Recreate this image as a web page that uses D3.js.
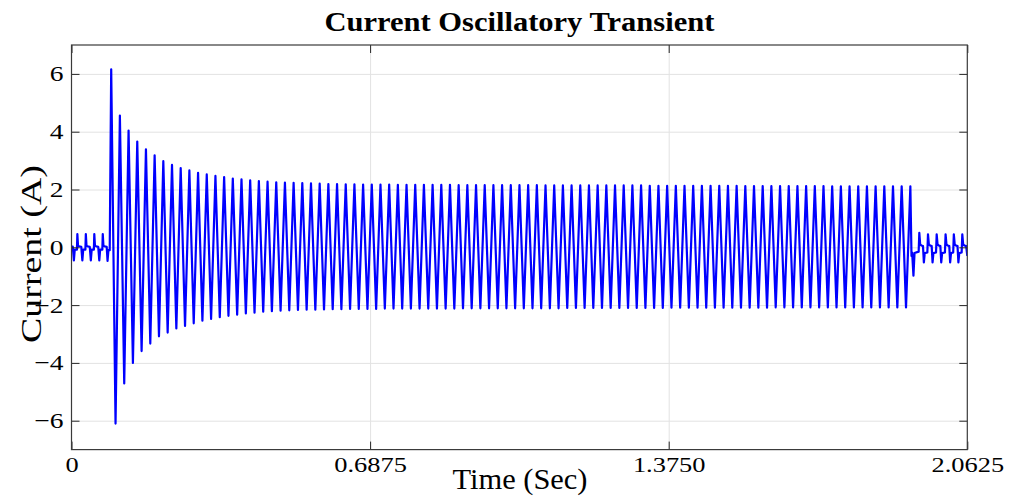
<!DOCTYPE html>
<html>
<head>
<meta charset="utf-8">
<title>Current Oscillatory Transient</title>
<script src="https://cdn.jsdelivr.net/npm/d3@7"></script>
<style>
  body { margin: 0; padding: 0; background: white; }
  svg { display: block; font-family: "Liberation Serif", "Times New Roman", serif; }
  .grid line { stroke: #e2e2e2; stroke-width: 1; }
  .grid path { display: none; }
  .axis path { display: none; }
  .axis line { stroke: #262626; stroke-width: 1; }
  .axis text { fill: #000; font-size: 22px; font-family: "Liberation Serif", serif; }
  .frame { fill: none; stroke: #3a3a3a; stroke-width: 1.2; }
  .trace { fill: none; stroke: #0000ff; stroke-width: 2.2; stroke-linejoin: round; }
  .title { font-weight: bold; font-size: 27px; }
  .label { font-size: 29px; }
</style>
</head>
<body>
<svg id="chart" width="1017" height="497"></svg>
<script>

//--- Axis ticks
const xTicks = [0, 0.6875, 1.375, 2.0625];
const xTickLabels = ["0", "0.6875", "1.3750", "2.0625"];
const yTicks = [-6, -4, -2, 0, 2, 4, 6];

//--- Oscillation: one positive and one negative peak per 50 Hz cycle
const period = 0.02;
const firstPeakTime = 0.0914;

const posPeaks = [
  6.16, 4.56, 4.04, 3.66, 3.39, 3.18, 2.98, 2.85, 2.74, 2.66,
  2.58, 2.52, 2.47, 2.43, 2.38, 2.35, 2.32, 2.29, 2.27, 2.25,
  2.24, 2.23, 2.22, 2.21, 2.20, 2.19, 2.19, 2.18, 2.18, 2.17,
  2.17, 2.17, 2.17, 2.16, 2.16, 2.16, 2.16, 2.16, 2.16, 2.16,
  2.15, 2.15, 2.15, 2.15, 2.15, 2.15, 2.15, 2.15, 2.15, 2.15,
  2.14, 2.14, 2.14, 2.14, 2.14, 2.14, 2.14, 2.14, 2.14, 2.14,
  2.14, 2.14, 2.13, 2.13, 2.13, 2.13, 2.13, 2.13, 2.13, 2.13,
  2.13, 2.13, 2.13, 2.12, 2.12, 2.12, 2.12, 2.12, 2.12, 2.12,
  2.12, 2.12, 2.12, 2.11, 2.11, 2.11, 2.11, 2.11, 2.11, 2.11,
  2.11, 2.11, 2.11
];

const negPeaks = [
  -6.10, -4.71, -4.00, -3.59, -3.33, -3.08, -2.95, -2.81, -2.72, -2.63,
  -2.54, -2.48, -2.42, -2.37, -2.33, -2.29, -2.26, -2.23, -2.21, -2.19,
  -2.18, -2.17, -2.16, -2.16, -2.15, -2.14, -2.14, -2.13, -2.13, -2.13,
  -2.13, -2.12, -2.12, -2.12, -2.12, -2.12, -2.12, -2.12, -2.12, -2.12,
  -2.11, -2.11, -2.11, -2.11, -2.11, -2.11, -2.11, -2.11, -2.11, -2.11,
  -2.11, -2.11, -2.10, -2.10, -2.10, -2.10, -2.10, -2.10, -2.10, -2.10,
  -2.10, -2.10, -2.10, -2.10, -2.09, -2.09, -2.09, -2.09, -2.09, -2.09,
  -2.09, -2.09, -2.09, -2.09, -2.09, -2.09, -2.08, -2.08, -2.08, -2.08,
  -2.08, -2.08, -2.08, -2.08, -2.08, -2.08, -2.08, -2.08, -2.08, -2.08,
  -2.08, -2.08
];

//--- Small ripple before the transient
const preTime = [
  0.000, 0.003, 0.0055, 0.0075, 0.0125, 0.0135, 0.015, 0.018, 0.0225,
  0.025, 0.027, 0.032, 0.033, 0.0345, 0.0375, 0.042,
  0.0445, 0.0465, 0.0515, 0.0525, 0.054, 0.057, 0.0615,
  0.064, 0.066, 0.071, 0.072, 0.0735, 0.0765, 0.081,
  0.083, 0.085, 0.088
];
const preCurrent = [
  0.02, 0.02, -0.45, -0.08, -0.08, 0.46, 0.06, 0.03, 0.02,
  -0.45, -0.08, -0.08, 0.46, 0.06, 0.03, 0.02,
  -0.45, -0.08, -0.08, 0.46, 0.06, 0.03, 0.02,
  -0.45, -0.08, -0.08, 0.46, 0.06, 0.03, 0.02,
  -0.47, -0.10, -0.10
];

//--- Small ripple after the transient
const postTime = [
  1.9340, 1.9355, 1.9385, 1.9410, 1.9505,
  1.9520, 1.9540, 1.9570, 1.9605, 1.9625, 1.9645, 1.9705,
  1.9720, 1.9740, 1.9770, 1.9805, 1.9825, 1.9845, 1.9905,
  1.9920, 1.9940, 1.9970, 2.0005, 2.0025, 2.0045, 2.0110,
  2.0125, 2.0145, 2.0175, 2.0210, 2.0230, 2.0250, 2.0300,
  2.0315, 2.0335, 2.0365, 2.0400, 2.0420, 2.0440, 2.0495,
  2.0510, 2.0530, 2.0560, 2.0600, 2.0625
];
const postCurrent = [
  -0.30, -0.18, -0.98, -0.20, -0.15,
  0.50, 0.10, 0.06, 0.04, -0.52, -0.20, -0.18,
  0.45, 0.10, 0.06, 0.04, -0.52, -0.20, -0.18,
  0.45, 0.10, 0.06, 0.04, -0.52, -0.20, -0.18,
  0.45, 0.10, 0.06, 0.04, -0.52, -0.20, -0.18,
  0.45, 0.10, 0.06, 0.04, -0.52, -0.20, -0.18,
  0.45, 0.10, 0.06, 0.04, -0.30
];

//--- Plot area
const plotLeft = 71.5, plotRight = 967.3, plotTop = 45, plotBottom = 449.6;
const plotW = plotRight - plotLeft, plotH = plotBottom - plotTop;

const x = d3.scaleLinear().domain([0, 2.0625]).range([plotLeft, plotRight]);
const y = d3.scaleLinear().domain([-7, 7]).range([plotBottom, plotTop]);

const svg = d3.select("#chart");

//--- Build trace points
const points = [];
preTime.forEach((t, i) => points.push({ t: t, v: preCurrent[i] }));
posPeaks.forEach((p, i) =>
{
  const tp = firstPeakTime + i * period;
  points.push({ t: tp, v: p });
  if (i < negPeaks.length)
    points.push({ t: tp + period / 2, v: negPeaks[i] });
});
postTime.forEach((t, i) => points.push({ t: t, v: postCurrent[i] }));

//--- Grid
svg.append("g")
  .attr("class", "grid")
  .attr("transform", `translate(0,${plotBottom})`)
  .call(d3.axisBottom(x).tickValues(xTicks.slice(1, -1)).tickSize(-plotH).tickFormat(""));

svg.append("g")
  .attr("class", "grid")
  .attr("transform", `translate(${plotLeft},0)`)
  .call(d3.axisLeft(y).tickValues(yTicks).tickSize(-plotW).tickFormat(""));

//--- Trace
svg.append("clipPath").attr("id", "plotClip")
  .append("rect")
    .attr("x", plotLeft).attr("y", plotTop)
    .attr("width", plotW).attr("height", plotH);

svg.append("path")
  .datum(points)
  .attr("class", "trace")
  .attr("clip-path", "url(#plotClip)")
  .attr("d", d3.line().x(d => x(d.t)).y(d => y(d.v)));

//--- Axes with inward ticks
const xAxis = svg.append("g")
  .attr("class", "axis")
  .attr("transform", `translate(0,${plotBottom})`)
  .call(d3.axisBottom(x).tickValues(xTicks)
    .tickFormat((d, i) => xTickLabels[i])
    .tickSizeInner(-8).tickSizeOuter(0).tickPadding(7));
xAxis.selectAll("text").attr("transform", "scale(1.2,1)");

svg.append("g")
  .attr("class", "axis")
  .attr("transform", `translate(0,${plotTop})`)
  .call(d3.axisTop(x).tickValues(xTicks).tickSize(-8).tickFormat(""));

const yAxis = svg.append("g")
  .attr("class", "axis")
  .attr("transform", `translate(${plotLeft},0)`)
  .call(d3.axisLeft(y).tickValues(yTicks)
    .tickSizeInner(-8).tickSizeOuter(0).tickPadding(8));
yAxis.selectAll("text").attr("x", -6.4).attr("transform", "scale(1.25,1)");

svg.append("g")
  .attr("class", "axis")
  .attr("transform", `translate(${plotRight},0)`)
  .call(d3.axisRight(y).tickValues(yTicks).tickSize(-8).tickFormat(""));

//--- Frame
svg.append("rect")
  .attr("class", "frame")
  .attr("x", plotLeft).attr("y", plotTop)
  .attr("width", plotW).attr("height", plotH);

//--- Titles
svg.append("text")
  .attr("class", "title")
  .attr("x", (plotLeft + plotRight) / 2).attr("y", 31)
  .attr("text-anchor", "middle")
  .attr("textLength", 390).attr("lengthAdjust", "spacingAndGlyphs")
  .text("Current Oscillatory Transient");

svg.append("text")
  .attr("class", "label")
  .attr("x", 520).attr("y", 489)
  .attr("text-anchor", "middle")
  .attr("textLength", 135).attr("lengthAdjust", "spacingAndGlyphs")
  .text("Time (Sec)");

svg.append("text")
  .attr("class", "label")
  .attr("transform", "translate(41,254) rotate(-90)")
  .attr("text-anchor", "middle")
  .attr("textLength", 178).attr("lengthAdjust", "spacingAndGlyphs")
  .text("Current (A)");

</script>
</body>
</html>
